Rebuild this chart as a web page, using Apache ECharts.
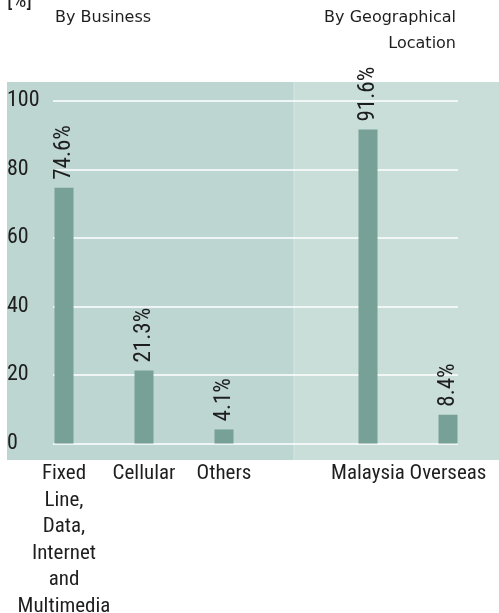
<!DOCTYPE html>
<html>
<head>
<meta charset="utf-8">
<script src="https://cdn.jsdelivr.net/npm/echarts@6/dist/echarts.min.js"></script>
<style>
  html, body { margin: 0; padding: 0; background: #ffffff; }
  #chart { width: 499px; height: 613px; }
</style>
</head>
<body>
<div id="chart"></div>
<script>
// Revenue breakdown, in percent
const businessCategories = ['Fixed\nLine,\nData,\nInternet\nand\nMultimedia', 'Cellular', 'Others'];
const businessValues = [74.6, 21.3, 4.1];
const geoCategories = ['Malaysia', 'Overseas'];
const geoValues = [91.6, 8.4];
const yMin = 0;
const yMax = 100;
const yInterval = 20;

// condensed grotesque for numbers and category names
const NARROW = "Roboto, 'Liberation Sans', sans-serif";
const STRETCH = 'condensed';
const NARROW_SIZE = 21;
const WIDE = "'DejaVu Sans', Verdana, sans-serif";
const BAR_COLOR = '#77a097';
const TEXT_COLOR = '#1e1e1e';

const chart = echarts.init(document.getElementById('chart'), null, { renderer: 'canvas' });

const plotTop = 100.7;
const plotBottom = 613 - 443.5;

function barSeries(idx, values) {
  return {
    type: 'bar',
    xAxisIndex: idx,
    yAxisIndex: idx,
    data: values,
    barWidth: 19,
    itemStyle: { color: BAR_COLOR },
    label: {
      show: true,
      position: 'top',
      distance: 8,
      rotate: 90,
      align: 'left',
      verticalAlign: 'middle',
      formatter: '{c}%',
      fontStyle: STRETCH,
      fontFamily: NARROW,
      fontSize: NARROW_SIZE + 2,
      color: TEXT_COLOR
    },
    z: 3
  };
}

function categoryAxis(idx, data) {
  return {
    type: 'category',
    gridIndex: idx,
    data: data,
    axisLine: { show: false },
    axisTick: { show: false },
    splitLine: { show: false },
    axisLabel: {
      show: true,
      interval: 0,
      margin: 17,
      fontStyle: STRETCH,
      fontFamily: NARROW,
      fontSize: NARROW_SIZE,
      lineHeight: 26.5,
      color: TEXT_COLOR,
      align: 'center'
    }
  };
}

function hiddenValueAxis(idx) {
  return { type: 'value', gridIndex: idx, min: yMin, max: yMax, interval: yInterval, show: false };
}

function plotGrid(extra) {
  return Object.assign({ top: plotTop, bottom: plotBottom, outerBoundsMode: 'none', containLabel: false }, extra);
}

chart.setOption({
  animation: false,
  backgroundColor: '#ffffff',
  graphic: [
    // panel backgrounds
    { type: 'rect', z: -10, shape: { x: 7, y: 82, width: 287, height: 378 }, style: { fill: '#bed6d2' } },
    { type: 'rect', z: -10, shape: { x: 294, y: 82, width: 205, height: 378 }, style: { fill: '#c9ddd9' } },
    { type: 'rect', z: -9, shape: { x: 293.5, y: 82, width: 1, height: 378 }, style: { fill: '#d6e6e2' } },
    // unit and group headings
    { type: 'text', left: 7, top: -10, style: { text: '[%]', font: STRETCH + ' 22px ' + NARROW, fill: TEXT_COLOR } },
    { type: 'text', left: 55, top: 10, style: { text: 'By Business', font: '16px ' + WIDE, fill: TEXT_COLOR } },
    { type: 'text', right: 43, top: 10, style: { text: 'By Geographical', font: '16px ' + WIDE, fill: TEXT_COLOR, align: 'right' } },
    { type: 'text', right: 43, top: 36, style: { text: 'Location', font: '16px ' + WIDE, fill: TEXT_COLOR, align: 'right' } }
  ],
  grid: [
    // shared value scale with its gridlines
    plotGrid({ left: 53, right: 41 }),
    // by business
    plotGrid({ left: 24, width: 240 }),
    // by geographical location
    plotGrid({ left: 328, width: 160 })
  ],
  xAxis: [
    { type: 'category', gridIndex: 0, data: [''], show: false },
    categoryAxis(1, businessCategories),
    categoryAxis(2, geoCategories)
  ],
  yAxis: [
    {
      type: 'value',
      gridIndex: 0,
      min: yMin,
      max: yMax,
      interval: yInterval,
      axisLine: { show: false },
      axisTick: { show: false },
      splitLine: { show: true, lineStyle: { color: '#ffffff', width: 1.5 } },
      axisLabel: {
        align: 'left',
        margin: 46,
        fontStyle: STRETCH,
        fontFamily: NARROW,
        fontSize: NARROW_SIZE + 1,
        color: TEXT_COLOR
      }
    },
    hiddenValueAxis(1),
    hiddenValueAxis(2)
  ],
  series: [
    barSeries(1, businessValues),
    barSeries(2, geoValues)
  ]
});
</script>
</body>
</html>
